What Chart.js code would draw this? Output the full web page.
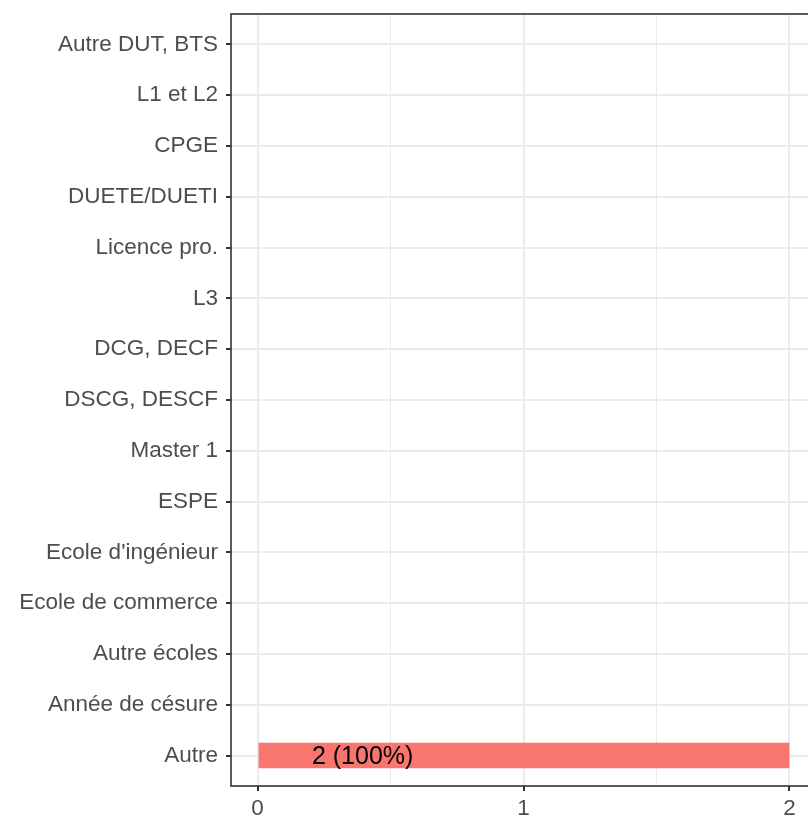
<!DOCTYPE html>
<html>
<head>
<meta charset="utf-8">
<script src="https://cdn.jsdelivr.net/npm/chart.js@4.4.0/dist/chart.umd.min.js"></script>
<style>
  html, body { margin: 0; padding: 0; background: #fff; overflow: hidden; }
  .chart-box { position: relative; width: 816px; height: 817px; }
</style>
</head>
<body>
<div class="chart-box"><canvas id="chart"></canvas></div>
<script>
// data, top to bottom
const categories = [
  'Autre DUT, BTS', 'L1 et L2', 'CPGE', 'DUETE/DUETI', 'Licence pro.', 'L3',
  'DCG, DECF', 'DSCG, DESCF', 'Master 1', 'ESPE', "Ecole d'ingénieur",
  'Ecole de commerce', 'Autre écoles', 'Année de césure', 'Autre'
];
const counts = [0, 0, 0, 0, 0, 0, 0, 0, 0, 0, 0, 0, 0, 0, 2];
const barLabels = ['', '', '', '', '', '', '', '', '', '', '', '', '', '', '2 (100%)'];
const xTicks = [0, 0.5, 1, 1.5, 2];
const xMajor = [0, 1, 2];

const labelX = 0.395;

Chart.defaults.font.family = "'Liberation Sans', Arial, sans-serif";
Chart.defaults.font.size = 22.5;
Chart.defaults.color = '#4D4D4D';

const panelPlugin = {
  id: 'panel',
  afterDatasetsDraw(chart) {
    const { ctx, chartArea, scales } = chart;
    ctx.save();
    ctx.font = "25px 'Liberation Sans', Arial, sans-serif";
    ctx.fillStyle = '#000';
    ctx.textAlign = 'center';
    ctx.textBaseline = 'middle';
    barLabels.forEach((txt, i) => {
      if (!txt) return;
      ctx.fillText(txt, scales.x.getPixelForValue(labelX), scales.y.getPixelForValue(i) + 2);
    });
    ctx.strokeStyle = '#333333';
    ctx.lineWidth = 1.6;
    ctx.strokeRect(chartArea.left, chartArea.top, chartArea.right - chartArea.left, chartArea.bottom - chartArea.top);
    ctx.restore();
  }
};

const ctx = document.querySelector('#chart').getContext('2d');
new Chart(ctx, {
  type: 'bar',
  data: {
    datasets: [{
      data: counts.map((v, i) => ({ x: v, y: i })),
      backgroundColor: '#F8766D',
      borderWidth: 0,
      categoryPercentage: 0.5,
      barPercentage: 1,
    }],
  },
  plugins: [panelPlugin],
  options: {
    indexAxis: 'y',
    responsive: true,
    maintainAspectRatio: false,
    animation: false,
    layout: { padding: { top: 14, left: 0, right: 0, bottom: 0 } },
    plugins: { legend: { display: false }, tooltip: { enabled: false } },
    scales: {
      x: {
        type: 'linear',
        min: -0.1,
        max: 2.1,
        afterBuildTicks: (axis) => { axis.ticks = xTicks.map((v) => ({ value: v })); },
        afterFit: (axis) => {
          axis.height = 31;
          axis.paddingLeft = 0;
          axis.paddingRight = 0;
        },
        border: { display: false },
        grid: {
          color: '#EBEBEB',
          lineWidth: (c) => (xMajor.includes(c.tick.value) ? 2 : 1),
          tickColor: (c) => (xMajor.includes(c.tick.value) ? '#333333' : 'rgba(0,0,0,0)'),
          tickLength: 5,
          tickWidth: 2,
        },
        ticks: {
          padding: 4,
          maxRotation: 0,
          callback: (v) => (xMajor.includes(v) ? String(v) : ''),
        },
      },
      y: {
        type: 'linear',
        reverse: true,
        offset: false,
        min: -0.6,
        max: categories.length - 0.4,
        afterBuildTicks: (axis) => { axis.ticks = categories.map((_, i) => ({ value: i })); },
        afterFit: (axis) => {
          axis.width = 231;
          axis.paddingTop = 0;
          axis.paddingBottom = 0;
        },
        border: { display: false },
        grid: {
          offset: false,
          color: '#EBEBEB',
          lineWidth: 2,
          tickColor: '#333333',
          tickLength: 5,
          tickWidth: 2,
        },
        ticks: {
          padding: 8,
          callback: (v) => categories[v],
        },
      },
    },
  },
});
</script>
</body>
</html>
